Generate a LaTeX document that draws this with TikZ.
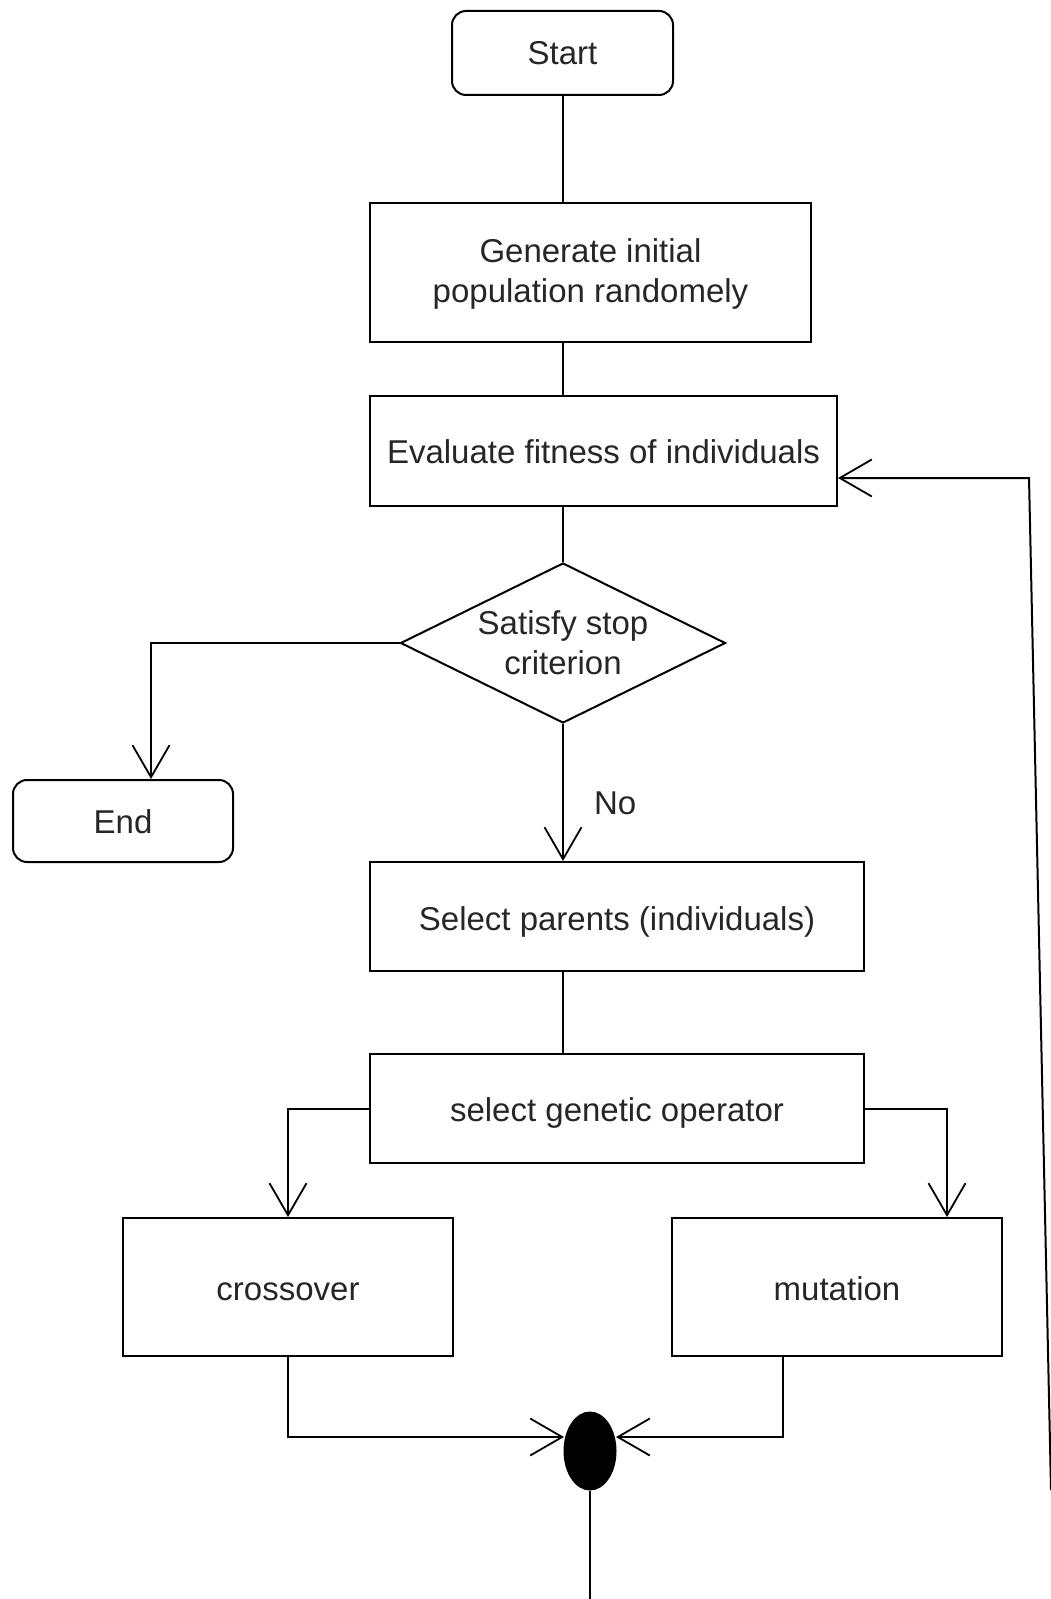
\documentclass[tikz,border=0pt]{standalone}
\usepackage{fontspec}
\setmainfont{Liberation Sans}
\usetikzlibrary{arrows.meta,shapes.geometric}
\newcommand\bl[2]{\raisebox{-#1}[0pt][0pt]{#2}}
\newcommand\twol[3]{\raisebox{#1}[0pt][0pt]{\parbox[t]{160pt}{\centering #2\\#3}}}
\begin{document}
\begin{tikzpicture}[x=0.5pt,y=-0.5pt, line width=1pt,
  txt/.style={font=\fontsize{16.5}{19.75}\selectfont, text=black!85, align=center},
  box/.style={draw, rectangle, inner sep=0pt, txt},
  term/.style={box, rounded corners=7pt},
  arr/.style={-{Straight Barb[length=16pt,width=18.5pt,line width=0.9pt]}}]
\useasboundingbox (0,0) rectangle (1050,1599);
% nodes
\node[term, minimum width=110.5pt, minimum height=42pt] (start) at (562.5,53) {\bl{6pt}{Start}};
\node[box, minimum width=220.5pt, minimum height=69.5pt] (gen) at (590.5,272.5) {\twol{4.75pt}{Generate initial}{population randomely}};
\node[box, minimum width=233.5pt, minimum height=55pt] (eval) at (603.5,451) {\bl{6pt}{Evaluate fitness of individuals}};
\node[diamond, draw, minimum width=162.5pt, minimum height=80pt, inner sep=0pt] (dec) at (563,643) {};
\node[txt, inner sep=0pt, font=\fontsize{16.5}{20}\selectfont] (dectext) at (563,643) {\twol{4.5pt}{Satisfy stop}{criterion}};
\node[term, minimum width=110pt, minimum height=41pt] (end) at (123,821) {\bl{6.25pt}{End}};
\node[box, minimum width=247pt, minimum height=54.5pt] (sel) at (617,916.5) {\bl{6.75pt}{Select parents (individuals)}};
\node[box, minimum width=247pt, minimum height=54.5pt] (op) at (617,1108.5) {\bl{6.25pt}{select genetic operator}};
\node[box, minimum width=165pt, minimum height=69pt] (cross) at (288,1287) {\bl{6.5pt}{crossover}};
\node[box, minimum width=165pt, minimum height=69pt] (mut) at (837,1287) {\bl{6.5pt}{mutation}};
\node[ellipse, fill=black, draw, minimum width=25.5pt, minimum height=38.5pt, inner sep=0pt] (join) at (590,1451) {};
\node[txt, anchor=base west, inner sep=0pt] (nolabel) at (593,814) {No};
% helper coordinates
\coordinate (spine) at (563,0);
\coordinate (endx) at (151,0);
\coordinate (mutx) at (947,0);
\coordinate (mutb) at (783,0);
\coordinate (jl) at (564,1437);
\coordinate (jr) at (616,1437);
\coordinate (bottom) at (590,1599);
\coordinate (loopstart) at (1051,1490);
\coordinate (loopcorner) at (1029,478);
\coordinate (evalin) at (838,478);
% connectors
\draw (start.south -| spine) -- (gen.north -| spine);
\draw (gen.south -| spine) -- (eval.north -| spine);
\draw (eval.south -| spine) -- (dec.north);
\draw[arr] (dec.west) -| (end.north -| endx);
\draw[arr] (dec.south) -- (sel.north -| spine);
\draw (sel.south -| spine) -- (op.north -| spine);
\draw[arr] (op.west) -| (cross.north);
\draw[arr] (op.east) -| (mut.north -| mutx);
\draw[arr] (cross.south) |- (jl);
\draw[arr] (mut.south -| mutb) |- (jr);
\draw (join.south) -- (bottom);
\draw[arr] (loopstart) -- (loopcorner) -- (evalin);
\end{tikzpicture}
\end{document}
